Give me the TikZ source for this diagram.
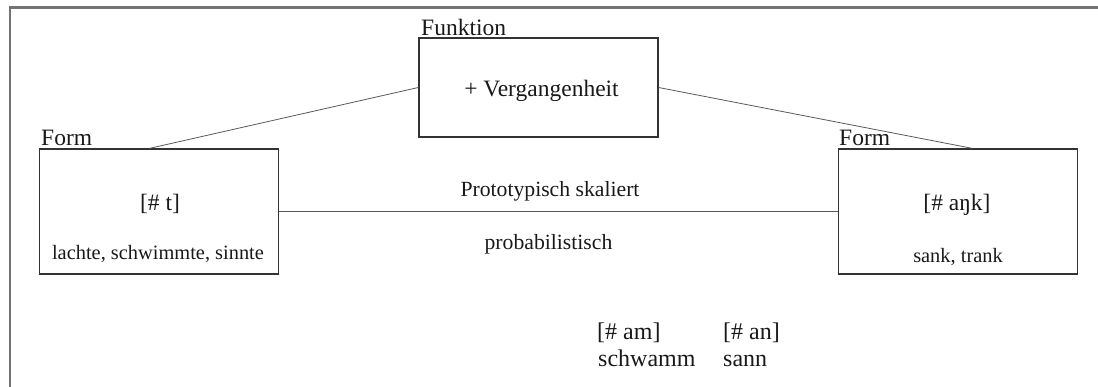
\documentclass[tikz,border=0pt]{standalone}
\usepackage{fontspec}
\setmainfont{Liberation Serif}
\usetikzlibrary{calc}
\begin{document}
\begin{tikzpicture}[x=1pt,y=1pt,
  frameline/.style={draw=black!55,line width=2.2pt},
  boxstyle/.style={draw=black!80,line width=1.2pt,rectangle,inner sep=0pt,minimum width=239pt},
  link/.style={draw=black!65,line width=0.8pt},
  bigtxt/.style={inner sep=0pt,font=\fontsize{23.5}{28}\selectfont,text=black!90},
  midtxt/.style={inner sep=0pt,font=\fontsize{21.7}{26}\selectfont,text=black!90},
  smalltxt/.style={inner sep=0pt,font=\fontsize{20.4}{24}\selectfont,text=black!90},
  lowtxt/.style={inner sep=0pt,font=\fontsize{24}{28}\selectfont,text=black!90}]
\useasboundingbox (0,0) rectangle (1098,387);
% frame
\coordinate (frtop) at (1098,379.5);
\coordinate (frcorner) at (10,379.5);
\coordinate (frbot) at (10,0);
\draw[frameline] (frtop) -- (frcorner) -- (frbot);
% boxes
\node[boxstyle,minimum height=99pt] (fun) at (538.5,299.5) {};
\node[boxstyle,minimum height=125pt] (L) at (159,175.5) {};
\node[boxstyle,minimum height=125pt] (R) at (958,175.5) {};
% labels
\node[bigtxt,anchor=base west] (funlab) at (421,351) {Funktion};
\node[bigtxt,anchor=base] (funtxt) at (541.5,290) {+ Vergangenheit};
\node[bigtxt,anchor=base west] (Llab) at (41,241) {Form};
\node[bigtxt,anchor=base west] (Rlab) at (839,241) {Form};
\node[bigtxt,anchor=base] (Ltxt) at (160,176) {[\# t]};
\node[bigtxt,anchor=base] (Rtxt) at (957,176) {[\# aŋk]};
\node[smalltxt,anchor=base] (Lex) at (158,127) {lachte, schwimmte, sinnte};
\node[smalltxt,anchor=base] (Rex) at (958,124) {sank, trank};
\node[midtxt,anchor=base] (proto) at (550,190) {Prototypisch skaliert};
\node[midtxt,anchor=base] (prob) at (548.5,137) {probabilistisch};
\node[lowtxt,anchor=base west] (am) at (597,47) {[\# am]};
\node[lowtxt,anchor=base west] (schw) at (598,20) {schwamm};
\node[lowtxt,anchor=base west] (an) at (723,47) {[\# an]};
\node[lowtxt,anchor=base west] (sann) at (723,20) {sann};
% connectors
\draw[link] (fun.west) -- ($(L.north west)!0.46!(L.north east)$);
\draw[link] (fun.east) -- ($(R.north west)!0.56!(R.north east)$);
\draw[link] (L.east) -- (R.west);
\end{tikzpicture}
\end{document}
